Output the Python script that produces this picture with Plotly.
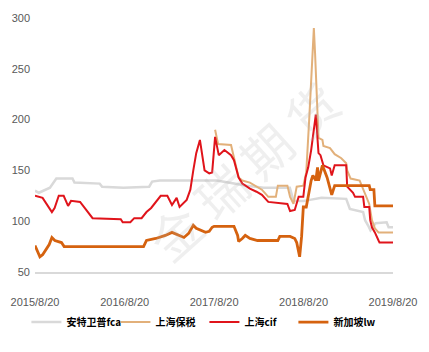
import plotly.graph_objects as go

# 安特卫普fca
fca_dates = ["2015-08-20","2015-09-05","2015-10-20","2015-11-15","2016-01-20","2016-01-28","2016-05-10","2016-05-20",
             "2016-08-15","2016-11-28","2016-12-10","2017-01-10","2017-08-31","2017-11-05","2018-01-01","2018-03-10",
             "2018-06-25","2018-07-10","2018-08-20","2018-09-15","2018-11-01","2019-02-10","2019-02-25","2019-04-20",
             "2019-04-28","2019-05-10","2019-05-20","2019-06-10","2019-07-25","2019-08-02","2019-08-20"]
fca_vals = [130,128,133,142,142,138,137,134,133,134,139,140,140,137,135,133,133,120,120,121,123,122,112,109,101,96,91,98,99,94,94]

# 上海保税
bond_dates = ["2017-08-24","2017-09-05","2017-10-28","2017-11-09","2017-11-28","2017-12-13","2018-01-13","2018-03-03",
              "2018-03-29","2018-04-29","2018-05-07","2018-06-15","2018-06-26","2018-07-10","2018-07-23","2018-08-19",
              "2018-08-31","2018-09-12","2018-09-24","2018-10-01","2018-10-06","2018-10-16","2018-10-20","2018-11-05",
              "2018-11-09","2018-12-06","2018-12-13","2018-12-25","2019-01-21","2019-02-10","2019-02-14","2019-02-28",
              "2019-04-06","2019-04-18","2019-04-29","2019-05-15","2019-05-26","2019-06-07","2019-06-22","2019-08-20"]
bond_vals = [190,176,175,163,143,140,138,131,124,124,135,135,124,117,134,135,148,200,265,290,265,200,182,180,
             174,172,170,166,162,157,150,142,140,133,128,117,101,93,89,89]

# 上海cif
cif_dates = ["2015-08-20","2015-09-20","2015-10-28","2015-11-08","2015-11-25","2015-12-15","2016-01-02","2016-01-14",
             "2016-02-20","2016-03-22","2016-04-11","2016-08-04","2016-08-12","2016-09-12","2016-09-28","2016-10-28",
             "2016-11-17","2016-12-06","2017-01-02","2017-01-14","2017-02-10","2017-03-01","2017-03-20","2017-04-01",
             "2017-04-30","2017-05-15","2017-05-27","2017-06-08","2017-06-23","2017-07-12","2017-07-31","2017-08-12",
             "2017-08-24","2017-09-08","2017-10-01","2017-10-28","2017-11-09","2017-11-28","2017-12-13","2018-01-13",
             "2018-02-09","2018-03-03","2018-03-29","2018-06-15","2018-06-26","2018-07-15","2018-07-31","2018-08-19",
             "2018-08-28","2018-09-08","2018-09-20","2018-09-30","2018-10-09","2018-10-20","2018-10-28","2018-11-09",
             "2018-12-06","2018-12-13","2018-12-25","2019-02-10","2019-02-14","2019-03-10","2019-03-18","2019-04-20",
             "2019-04-25","2019-05-15","2019-05-19","2019-05-26","2019-06-07","2019-06-22","2019-06-26","2019-08-20"]
cif_vals = [125,123,109,113,125,125,115,120,119,109,103,102,99,99,103,103,109,113,121,125,125,116,123,114,
            121,131,150,167,180,150,147,148,183,165,170,165,160,143,137,132,129,126,119,117,110,111,124,124,
            143,153,170,187,205,167,165,155,152,145,155,155,134,128,124,124,114,114,101,94,89,81,79,79]

# 新加坡lw
sg_dates = ["2015-08-20","2015-09-09","2015-09-20","2015-10-02","2015-10-17","2015-10-28","2015-11-09","2015-12-06",
            "2015-12-17","2016-11-05","2016-11-17","2016-12-25","2017-02-02","2017-03-01","2017-03-24","2017-04-19",
            "2017-05-08","2017-05-27","2017-06-08","2017-07-16","2017-07-31","2017-08-12","2017-08-20","2017-11-09",
            "2017-11-24","2017-11-28","2017-12-13","2017-12-25","2018-01-13","2018-02-13","2018-05-07","2018-05-15",
            "2018-06-26","2018-07-15","2018-07-23","2018-08-04","2018-08-12","2018-08-19","2018-08-31","2018-09-08",
            "2018-09-20","2018-09-27","2018-10-09","2018-10-16","2018-10-20","2018-11-05","2018-11-15","2018-11-24",
            "2018-12-13","2018-12-25","2019-05-15","2019-05-19","2019-06-03","2019-06-07","2019-08-20"]
sg_vals = [76,65,67,72,77,84,81,79,75,75,81,83,86,89,87,84,88,96,93,89,90,94,95,95,
           86,80,83,86,83,81,81,85,85,83,79,65,85,114,114,126,140,145,140,153,140,155,148,143,
           126,135,135,131,131,115,115]

tick_dates = ["2015-08-20","2016-08-20","2017-08-20","2018-08-20","2019-08-20"]
tick_text = ["2015/8/20","2016/8/20","2017/8/20","2018/8/20","2019/8/20"]
y_ticks = [50,100,150,200,250,300]

series = [
    ("安特卫普fca", fca_dates, fca_vals, "#D9D9D9", 2.5),
    ("上海保税", bond_dates, bond_vals, "#E2B07A", 2),
    ("上海cif", cif_dates, cif_vals, "#E0141B", 2),
    ("新加坡lw", sg_dates, sg_vals, "#D5620F", 2.8),
]

fig = go.Figure()
for name, d, v, c, w in series:
    fig.add_trace(go.Scatter(x=d, y=v, mode="lines", name=name,
                             line=dict(color=c, width=w)))

axis_font = dict(family="Liberation Sans Narrow, Arial Narrow, sans-serif", size=11, color="#595959")
fig.update_layout(
    width=429, height=352,
    margin=dict(l=24, r=27, t=18, b=80),
    paper_bgcolor="white", plot_bgcolor="white",
    showlegend=True,
    legend=dict(orientation="h", x=-0.024, xanchor="left", y=-0.197, yanchor="middle",
                font=dict(family="Noto Sans CJK SC", size=10, color="black", weight="bold"),
                entrywidth=44, entrywidthmode="pixels", itemwidth=30,
                bgcolor="rgba(0,0,0,0)"),
    xaxis=dict(type="date", range=["2015-08-20", "2019-08-20"], tickvals=tick_dates, ticktext=tick_text,
               showgrid=False, zeroline=False, showline=True, linecolor="#D9D9D9", linewidth=2,
               ticks="", tickfont=axis_font, ticklabelstandoff=19),
    yaxis=dict(range=[50, 300], tickvals=y_ticks, showgrid=False, zeroline=False, showline=False,
               ticks="", tickfont=axis_font, ticklabelstandoff=4),
    annotations=[dict(text="金 瑞 期 货", xref="paper", yref="paper", x=0.58, y=0.40, showarrow=False,
                      textangle=-42, font=dict(family="Noto Sans CJK SC", size=50, color="rgba(180,180,180,0.22)"))],
)

fig.write_html("out.html")
